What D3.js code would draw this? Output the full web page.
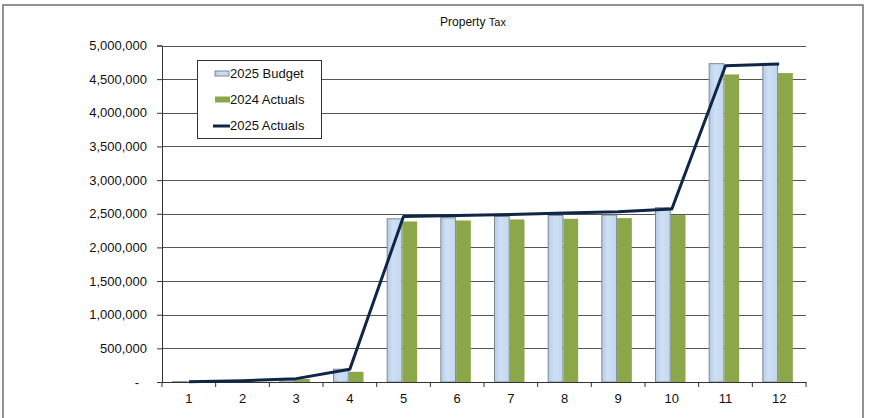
<!DOCTYPE html>
<html>
<head>
<meta charset="utf-8">
<script src="https://cdn.jsdelivr.net/npm/d3@7"></script>
<style>
  body { margin: 0; background: #fff; }
  svg { font-family: "Liberation Sans", Arial, sans-serif; }
</style>
</head>
<body>
<div id="chart"></div>
<script>
// chart data
const months = ["1", "2", "3", "4", "5", "6", "7", "8", "9", "10", "11", "12"];
const budget2025 = [5000, 10000, 30000, 190000, 2425000, 2440000, 2460000, 2475000, 2480000, 2590000, 4730000, 4730000];
const actuals2024 = [0, 5000, 45000, 152000, 2385000, 2400000, 2415000, 2425000, 2435000, 2480000, 4570000, 4590000];
const actuals2025 = [5000, 20000, 50000, 190000, 2460000, 2475000, 2490000, 2510000, 2530000, 2570000, 4700000, 4725000];
const yTicks = [0, 500000, 1000000, 1500000, 2000000, 2500000, 3000000, 3500000, 4000000, 4500000, 5000000];
const seriesNames = ["2025 Budget", "2024 Actuals", "2025 Actuals"];

const width = 873;
const height = 418;
const margin = { top: 45.5, right: 67, bottom: 36, left: 162 };

const svg = d3.select("#chart")
    .append("svg")
    .attr("width", width)
    .attr("height", height);

// gradient for the budget bars
const defs = svg.append("defs");
const grad = defs.append("linearGradient").attr("id", "blueGrad")
    .attr("x1", "0%").attr("x2", "100%").attr("y1", "0%").attr("y2", "0%");
grad.append("stop").attr("offset", "0%").attr("stop-color", "#b6cbe6");
grad.append("stop").attr("offset", "40%").attr("stop-color", "#cfe0f5");
grad.append("stop").attr("offset", "100%").attr("stop-color", "#c3d7f0");

// outer frame
svg.append("rect")
    .attr("x", 3).attr("y", 5)
    .attr("width", 860).attr("height", 430)
    .attr("fill", "none")
    .attr("stroke", "#6f6f6f")
    .attr("stroke-width", 1.5);

const x = d3.scaleBand()
    .domain(months)
    .range([margin.left, width - margin.right])
    .padding(0);

const x1 = d3.scaleBand()
    .domain(["budget", "actual"])
    .range([10.5, 40]);

const y = d3.scaleLinear()
    .domain([0, 5000000])
    .range([height - margin.bottom, margin.top]);

// gridlines
svg.append("g")
    .selectAll("line")
    .data(yTicks.filter(d => d > 0))
    .enter()
    .append("line")
    .attr("x1", margin.left)
    .attr("x2", width - margin.right)
    .attr("y1", d => Math.round(y(d)) + 0.5)
    .attr("y2", d => Math.round(y(d)) + 0.5)
    .attr("stroke", "#555")
    .attr("stroke-width", 1);

// bars
const groups = svg.append("g")
    .selectAll("g")
    .data(months)
    .enter()
    .append("g")
    .attr("transform", d => `translate(${x(d)},0)`);

groups.append("rect")
    .attr("x", x1("budget"))
    .attr("y", (d, i) => y(budget2025[i]))
    .attr("width", x1.bandwidth())
    .attr("height", (d, i) => y(0) - y(budget2025[i]))
    .attr("fill", "url(#blueGrad)")
    .attr("stroke", "#7d8896")
    .attr("stroke-width", 1);

groups.append("rect")
    .attr("x", x1("actual") + 0.5)
    .attr("y", (d, i) => y(actuals2024[i]))
    .attr("width", x1.bandwidth())
    .attr("height", (d, i) => y(0) - y(actuals2024[i]))
    .attr("fill", "#8ca64a");

// axes
const xAxis = svg.append("g")
    .attr("transform", `translate(0,${y(0)})`)
    .call(d3.axisBottom(x).tickSize(0).tickPadding(12));
xAxis.select(".domain").attr("stroke", "#333");
xAxis.selectAll("text").attr("font-size", 13).attr("fill", "#111")
    .attr("font-family", "Liberation Sans, Arial, sans-serif");

// x ticks at the category boundaries
xAxis.selectAll(".bound")
    .data(months.map(m => x(m)).concat([width - margin.right]))
    .enter()
    .append("line")
    .attr("class", "bound")
    .attr("x1", d => d).attr("x2", d => d)
    .attr("y1", 0).attr("y2", 5)
    .attr("stroke", "#333");

const yAxis = svg.append("g")
    .attr("transform", `translate(${margin.left},0)`)
    .call(d3.axisLeft(y)
        .tickValues(yTicks)
        .tickSize(5)
        .tickPadding(10)
        .tickFormat(d => d === 0 ? "-" : d3.format(",")(d)));
yAxis.select(".domain").attr("stroke", "#333");
yAxis.selectAll(".tick line").attr("stroke", "#333");
yAxis.selectAll("text").attr("font-size", 13).attr("fill", "#111")
    .attr("font-family", "Liberation Sans, Arial, sans-serif")
    .attr("dx", d => d === 0 ? -8 : 0);

// 2025 actuals line
const line = d3.line()
    .x((d, i) => x(months[i]) + x.bandwidth() / 2)
    .y(d => y(d));

svg.append("path")
    .datum(actuals2025)
    .attr("d", line)
    .attr("fill", "none")
    .attr("stroke", "#0f2647")
    .attr("stroke-width", 3)
    .attr("stroke-linejoin", "round");

// title
const title = svg.append("text")
    .attr("x", 473)
    .attr("y", 26)
    .attr("text-anchor", "middle")
    .attr("fill", "#111")
    .attr("font-size", 12);
title.append("tspan").text("Property ");
title.append("tspan").attr("font-size", 11).text("Tax");

// legend
const legend = svg.append("g").attr("transform", "translate(197,60)");
legend.append("rect")
    .attr("x", 0.5).attr("y", 0.5)
    .attr("width", 124).attr("height", 78)
    .attr("fill", "#fff")
    .attr("stroke", "#333");

legend.append("rect")
    .attr("x", 18).attr("y", 11).attr("width", 14).attr("height", 5)
    .attr("fill", "url(#blueGrad)").attr("stroke", "#7d8896");
legend.append("rect")
    .attr("x", 18).attr("y", 36.5).attr("width", 15).attr("height", 6)
    .attr("fill", "#8ca64a");
legend.append("line")
    .attr("x1", 16).attr("x2", 33).attr("y1", 66).attr("y2", 66)
    .attr("stroke", "#0f2647").attr("stroke-width", 3);

legend.selectAll(".ltxt")
    .data(seriesNames)
    .enter()
    .append("text")
    .attr("class", "ltxt")
    .attr("x", 33)
    .attr("y", (d, i) => 17.5 + i * 26.3)
    .attr("font-size", 13)
    .attr("fill", "#111")
    .text(d => d);
</script>
</body>
</html>
